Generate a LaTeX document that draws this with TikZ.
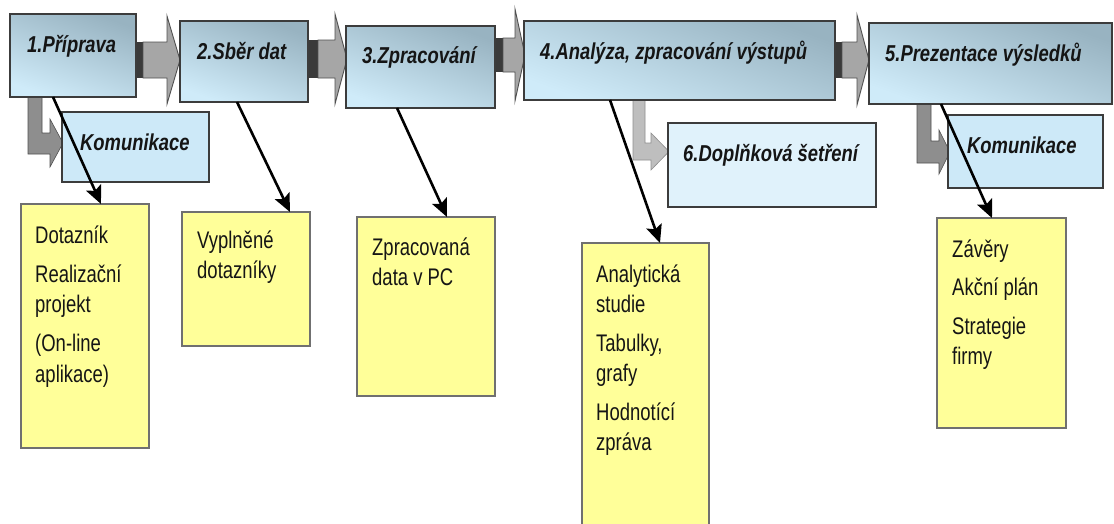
\documentclass[tikz,border=0pt]{standalone}
\usepackage{fontspec}
\setmainfont[FakeStretch=0.77]{Liberation Sans}
\newfontfamily\headfont[FakeStretch=0.80]{Liberation Sans}
\usetikzlibrary{arrows.meta,calc}
\definecolor{boxedge}{HTML}{3C3C3C}
\definecolor{mbdark}{HTML}{98B3C1}
\definecolor{mbmid}{HTML}{BDDAE9}
\definecolor{mblight}{HTML}{CFEBF9}
\definecolor{kombox}{HTML}{CDE9F8}
\definecolor{sixbox}{HTML}{E0F2FB}
\definecolor{yelbox}{HTML}{FFFF99}
\definecolor{yeledge}{HTML}{707070}
\definecolor{arrdark}{HTML}{3A3A3A}
\definecolor{arrfill}{HTML}{A6A6A6}
\definecolor{arredge}{HTML}{505050}
\definecolor{lfill}{HTML}{8E8E8E}
\definecolor{lfilllight}{HTML}{BEBEBE}
\definecolor{txtdark}{HTML}{151515}
\newcommand\blockarr[7]{%
  \fill[arrdark] (#1,#5-#6) rectangle (#2,#5+#6);
  \filldraw[fill=arrfill, draw=arredge, line width=0.9pt]
    (#2,#5-#6) -- (#3,#5-#6) -- (#3,#5-#7) -- (#4,#5) -- (#3,#5+#7) -- (#3,#5+#6) -- (#2,#5+#6) -- cycle;
}
\begin{document}
\begin{tikzpicture}[x=1pt,y=-1pt,
  mainbox/.style={draw=boxedge, line width=1.6pt, anchor=north west, inner sep=0pt, outer sep=0pt,
    top color=mbdark, middle color=mbmid, bottom color=mblight, shading angle=-20},
  kombox/.style={draw=boxedge, line width=1.6pt, fill=kombox, anchor=north west, inner sep=0pt, outer sep=0pt},
  sixbox/.style={draw=boxedge, line width=1.6pt, fill=sixbox, anchor=north west, inner sep=0pt, outer sep=0pt},
  yelbox/.style={draw=yeledge, line width=1.3pt, fill=yelbox, anchor=north west, inner sep=0pt, outer sep=0pt},
  headtext/.style={anchor=base west, inner sep=0pt, text=txtdark, font=\headfont\fontsize{23}{28}\selectfont\bfseries\itshape},
  ytext/.style={anchor=north west, inner sep=0pt, align=left, text=txtdark, font=\fontsize{24}{30.5}\selectfont},
  conn/.style={line width=2.6pt, black, -{Stealth[length=18pt,width=16pt,inset=3.5pt]}}
]
\useasboundingbox (0,0) rectangle (1114,523);
\fill[white] (0,0) rectangle (1114,523);

% block arrows between main boxes
\blockarr{135}{143}{167}{180}{60}{18}{44}
\blockarr{307}{318}{335}{347}{59}{19}{45}
\blockarr{494}{503}{515}{525}{55}{17}{46}
\blockarr{834}{842}{857}{869}{60}{18}{45}

% L-shaped arrows
\filldraw[fill=lfill, draw=arredge, line width=0.6pt]
  (28,96) -- (42,96) -- (42,133) -- (50,133) -- (50,119) -- (63,143) -- (50,167) -- (50,154) -- (28,154) -- cycle;
\filldraw[fill=lfill, draw=arredge, line width=0.6pt]
  (917,103) -- (931,103) -- (931,141) -- (939,141) -- (939,130) -- (950,152) -- (939,174) -- (939,163) -- (917,163) -- cycle;
\filldraw[fill=lfilllight, draw=lfill, line width=0.6pt]
  (633,99) -- (645,99) -- (645,143) -- (651,143) -- (651,133) -- (669,151.5) -- (651,170) -- (651,160) -- (633,160) -- cycle;

% main boxes
\node[mainbox, minimum width=126pt, minimum height=83pt] (b1) at (10,14) {};
\node[mainbox, minimum width=128pt, minimum height=81pt] (b2) at (180,21) {};
\node[mainbox, minimum width=149pt, minimum height=82pt] (b3) at (346,26) {};
\node[mainbox, minimum width=311pt, minimum height=79pt] (b4) at (524,21) {};
\node[mainbox, minimum width=243pt, minimum height=81pt] (b5) at (869,23) {};
\node[headtext] (t1) at (27,52) {1.Příprava};
\node[headtext] (t2) at (197,59) {2.Sběr dat};
\node[headtext] (t3) at (362,63) {3.Zpracování};
\node[headtext] (t4) at (540,59) {4.Analýza, zpracování výstupů};
\node[headtext] (t5) at (885,61) {5.Prezentace výsledků};

% secondary boxes
\node[kombox, minimum width=147pt, minimum height=70pt] (k1) at (62,112) {};
\node[kombox, minimum width=155pt, minimum height=73pt] (k2) at (948,115) {};
\node[sixbox, minimum width=208pt, minimum height=84pt] (b6) at (668,123) {};
\node[headtext] (tk1) at (80,150) {Komunikace};
\node[headtext] (tk2) at (967,153) {Komunikace};
\node[headtext] (t6) at (683,161) {6.Doplňková šetření};

% yellow output boxes
\node[yelbox, minimum width=128pt, minimum height=244pt] (y1) at (21,204) {};
\node[yelbox, minimum width=128pt, minimum height=134pt] (y2) at (182,212) {};
\node[yelbox, minimum width=138pt, minimum height=179pt] (y3) at (357,217) {};
\node[yelbox, minimum width=127pt, minimum height=300pt] (y4) at (582,243) {};
\node[yelbox, minimum width=129pt, minimum height=210pt] (y5) at (937,218) {};
\node[ytext] (ty1) at (35,225) {\rule{0pt}{18pt}Dotazník\\[8.5pt]Realizační\\projekt\\[8.5pt](On-line\\aplikace)};
\node[ytext] (ty2) at (197,230) {\rule{0pt}{18pt}Vyplněné\\dotazníky};
\node[ytext] (ty3) at (372,237) {\rule{0pt}{18pt}Zpracovaná\\data v PC};
\node[ytext] (ty4) at (596,264) {\rule{0pt}{18pt}Analytická\\studie\\[8pt]Tabulky,\\grafy\\[8pt]Hodnotící\\zpráva};
\node[ytext] (ty5) at (952,239) {\rule{0pt}{18pt}Závěry\\[8pt]Akční plán\\[8pt]Strategie\\firmy};

% connectors
\draw[conn] ($(b1.south west)+(43,0)$) -- ($(y1.north west)+(80,0)$);
\draw[conn] ($(b2.south west)+(57,0)$) -- ($(y2.north west)+(108,0)$);
\draw[conn] ($(b3.south west)+(51,0)$) -- ($(y3.north west)+(90,0)$);
\draw[conn] ($(b4.south west)+(86,0)$) -- ($(y4.north west)+(78,0)$);
\draw[conn] ($(b5.south west)+(72,0)$) -- ($(y5.north west)+(55,0)$);
\end{tikzpicture}
\end{document}
